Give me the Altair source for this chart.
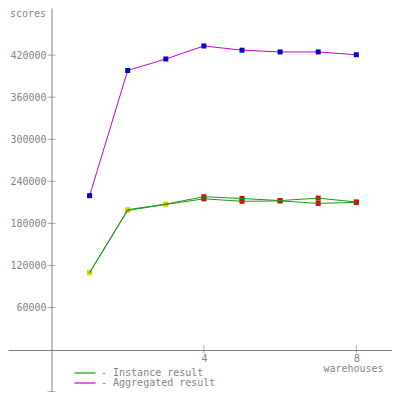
import altair as alt
import pandas as pd

# ---- data ----
warehouses = [1, 2, 3, 4, 5, 6, 7, 8]
instance_1 = [110000, 199500, 207500, 218000, 215500, 212500, 216000, 210500]
instance_2 = [109500, 198500, 207000, 215000, 211500, 212000, 208500, 210000]
aggregated = [219500, 398000, 414500, 433000, 427000, 424500, 424500, 420500]
phase = ["ramp-up", "ramp-up", "ramp-up", "measured", "measured", "measured", "measured", "measured"]
series_names = ["Instance result", "Aggregated result"]
y_tick_values = [-60000, 60000, 120000, 180000, 240000, 300000, 360000, 420000]
y_label_values = [60000, 120000, 180000, 240000, 300000, 360000, 420000]
x_tick_values = [4, 8]

rows = []
for run, vals in (("Instance 1", instance_1), ("Instance 2", instance_2)):
    for w, v, p in zip(warehouses, vals, phase):
        rows.append(dict(warehouses=w, score=v, run=run, series=series_names[0], phase=p))
agg_rows = [dict(warehouses=w, score=v, run="Aggregated", series=series_names[1], phase="aggregate")
            for w, v in zip(warehouses, aggregated)]
inst_df = pd.DataFrame(rows)
agg_df = pd.DataFrame(agg_rows)
all_df = pd.concat([inst_df, agg_df], ignore_index=True)

ytick_df = pd.DataFrame({"warehouses": [0] * len(y_tick_values), "score": y_tick_values})
xtick_df = pd.DataFrame({"warehouses": x_tick_values, "score": [0] * len(x_tick_values)})

GRAY = "#808080"
TEXT = "#858585"
W, H = 384, 384

xs = alt.Scale(domain=[-1.1417, 8.937], nice=False, zero=False)
ys = alt.Scale(domain=[-60500, 487179], nice=False, zero=False)

x_axis = alt.Axis(values=x_tick_values, format="d", offset=-42, ticks=False, tickSize=0,
                  labelPadding=3, grid=False, domainColor=GRAY, labelColor=TEXT,
                  title="warehouses", titleX=345, titleY=18, titleBaseline="middle",
                  titleAlign="center", titleColor=TEXT, titleFontWeight="normal")
y_axis = alt.Axis(values=y_label_values, format="d", offset=-43.5, ticks=False, tickSize=0,
                  labelPadding=5.5, grid=False, domainColor=GRAY, labelColor=TEXT,
                  title="scores", titleAngle=0, titleX=-6, titleY=0, titleAlign="right",
                  titleBaseline="top", titleColor=TEXT, titleFontWeight="normal")

X = alt.X("warehouses:Q", scale=xs, axis=x_axis, title="warehouses")
Y = alt.Y("score:Q", scale=ys, axis=y_axis, title="scores")

ytick_layer = alt.Chart(ytick_df).mark_tick(orient="horizontal", size=8, thickness=1, color=GRAY).encode(
    x=X, y=Y,
)
xtick_layer = alt.Chart(xtick_df).mark_tick(orient="vertical", size=8, thickness=1, color=GRAY).encode(
    x=X, y=Y,
)

inst_points = alt.Chart(inst_df).mark_point(shape="square", filled=True, size=25, opacity=1).encode(
    x=X, y=Y,
    fill=alt.Fill("phase:N", scale=alt.Scale(domain=["ramp-up", "measured"], range=["#e8cc00", "#e00000"]),
                  legend=None),
    detail="run:N",
)

lines = alt.Chart(all_df).mark_line(strokeWidth=1).encode(
    x=X, y=Y,
    color=alt.Color("series:N", scale=alt.Scale(domain=series_names, range=["#1a9a1a", "#cc00cc"]),
                    sort=series_names,
                    legend=alt.Legend(orient="none", legendX=72, legendY=360, title=None,
                                      symbolType="M-4,0H4", symbolSize=28, symbolStrokeWidth=1.2,
                                      labelExpr="'- ' + datum.label", labelFontSize=10,
                                      labelColor=TEXT, labelOffset=11, rowPadding=-3.5, padding=0,
                                      labelFont="DejaVu Sans Mono")),
    detail="run:N",
)

agg_points = alt.Chart(agg_df).mark_point(shape="square", filled=True, size=25, opacity=1, color="#0000d0").encode(
    x=X, y=Y,
)

chart = alt.layer(ytick_layer, xtick_layer, inst_points, lines, agg_points).properties(
    width=W, height=H, autosize=alt.AutoSizeParams(type="none"), padding=0
).configure(
    font="DejaVu Sans Mono", background="white"
).configure_view(
    strokeWidth=0, stroke="transparent"
).configure_axis(
    labelFont="DejaVu Sans Mono", labelFontSize=10, titleFont="DejaVu Sans Mono", titleFontSize=10
)

chart.save("out.html", embed_options={"renderer": "svg", "actions": False})
